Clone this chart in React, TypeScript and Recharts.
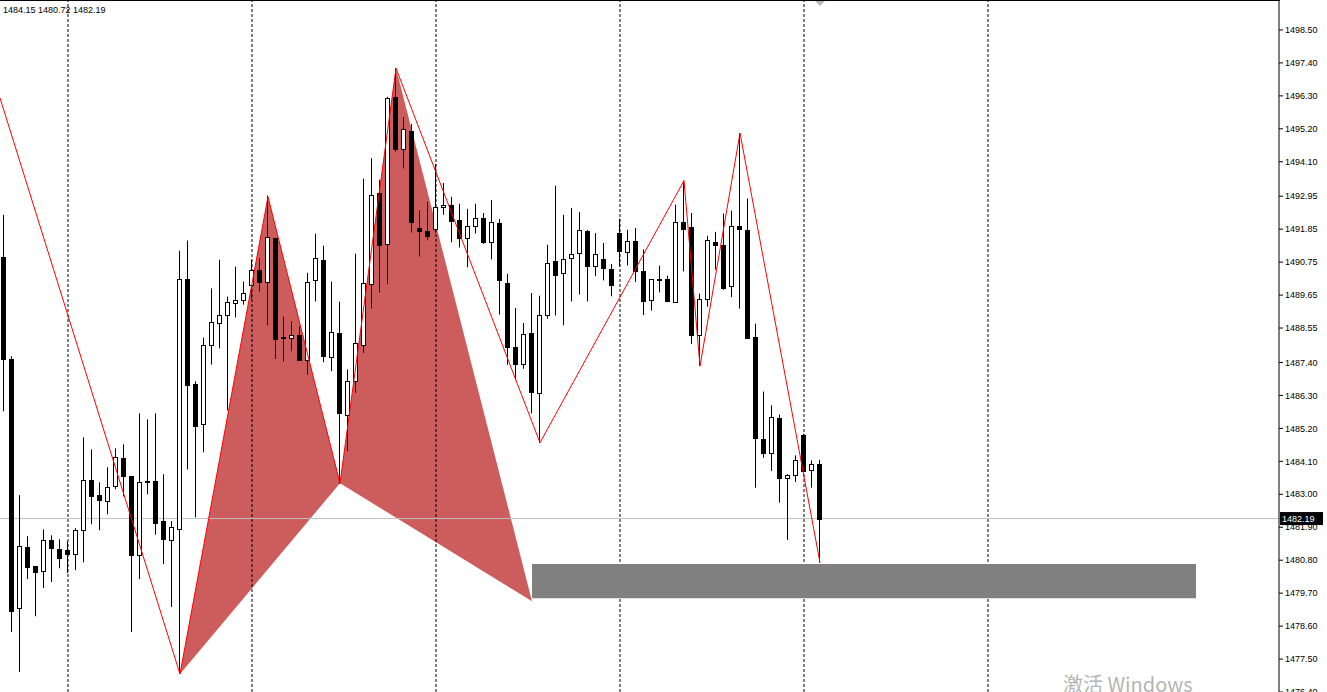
import { Bar, ComposedChart, Line, ReferenceArea, ReferenceDot, ReferenceLine, Scatter, XAxis, YAxis } from 'recharts'

// OHLC per bar (bar 0 = left edge)
const opens = [
  1490.93, 1487.53, 1479.2, 1481.23, 1480.6, 1480.43, 1481.47, 1481.17, 1481.13, 1481.0,
  1481.8, 1483.47, 1482.97, 1482.77, 1483.27, 1484.2, 1483.6, 1480.97, 1483.45, 1483.43,
  1482.1, 1481.47, 1481.83, 1490.17, 1486.67, 1485.33, 1487.97, 1488.73, 1488.97, 1489.4,
  1489.48, 1490.0, 1490.5, 1490.09, 1491.56, 1488.24, 1488.22, 1488.32, 1487.49, 1490.16,
  1490.83, 1487.59, 1488.39, 1485.66, 1486.79, 1487.99, 1490.02, 1493.06, 1491.36, 1496.26,
  1494.52, 1495.13, 1491.89, 1491.79, 1491.86, 1492.59, 1492.66, 1492.16, 1491.56, 1491.96,
  1492.22, 1491.41, 1492.06, 1490.06, 1487.92, 1487.36, 1488.39, 1486.39, 1489.0, 1490.8,
  1490.39, 1490.89, 1491.06, 1491.8, 1490.61, 1490.86, 1490.53, 1491.72, 1491.09, 1491.47,
  1490.47, 1489.47, 1490.18, 1490.2, 1489.41, 1492.09, 1491.92, 1488.32, 1489.52, 1491.42,
  1491.32, 1489.94, 1491.97, 1491.83, 1488.26, 1484.86, 1484.39, 1485.56, 1483.56, 1483.63,
  1484.99, 1483.8, 1484.02,
]
const highs = [
  1492.33, 1487.6, 1482.97, 1481.6, 1480.6, 1481.83, 1481.63, 1481.5, 1481.43, 1481.87,
  1484.9, 1484.5, 1483.4, 1483.9, 1484.53, 1484.67, 1483.6, 1485.7, 1485.5, 1485.7,
  1483.67, 1482.1, 1491.13, 1491.47, 1486.77, 1488.23, 1489.87, 1490.83, 1489.6, 1490.6,
  1490.1, 1490.82, 1490.87, 1492.97, 1491.56, 1488.93, 1488.77, 1488.6, 1490.39, 1491.7,
  1491.3, 1490.1, 1489.43, 1487.17, 1491.03, 1493.53, 1494.22, 1493.5, 1496.27, 1497.22,
  1495.59, 1495.36, 1492.47, 1492.76, 1494.03, 1493.39, 1492.93, 1492.7, 1492.53, 1492.7,
  1492.39, 1492.82, 1492.19, 1490.36, 1489.22, 1488.72, 1489.72, 1489.63, 1491.33, 1493.3,
  1492.33, 1492.56, 1492.42, 1491.82, 1491.72, 1491.39, 1490.69, 1492.2, 1491.83, 1491.89,
  1491.17, 1490.17, 1490.63, 1490.3, 1492.67, 1493.47, 1492.39, 1489.7, 1491.63, 1491.76,
  1492.37, 1492.47, 1495.06, 1492.87, 1488.7, 1486.43, 1485.97, 1485.66, 1483.67, 1484.3,
  1485.02, 1484.13, 1484.15,
]
const lows = [
  1485.77, 1478.4, 1477.07, 1480.17, 1478.93, 1479.87, 1480.07, 1480.53, 1480.37, 1480.47,
  1480.73, 1482.0, 1481.8, 1482.33, 1483.17, 1482.93, 1478.4, 1480.17, 1483.0, 1481.65,
  1480.67, 1479.24, 1477.0, 1483.83, 1482.23, 1484.4, 1487.33, 1487.87, 1485.8, 1488.9,
  1489.33, 1489.53, 1489.77, 1488.64, 1487.52, 1487.43, 1487.78, 1487.49, 1486.99, 1489.44,
  1487.41, 1487.11, 1483.35, 1484.44, 1486.39, 1487.72, 1489.21, 1489.74, 1490.02, 1494.44,
  1493.88, 1491.74, 1490.94, 1491.48, 1491.72, 1492.33, 1491.41, 1491.24, 1490.58, 1491.71,
  1491.36, 1490.84, 1489.0, 1487.32, 1486.81, 1487.19, 1485.7, 1484.72, 1488.86, 1488.97,
  1488.64, 1489.44, 1489.67, 1489.44, 1490.28, 1490.14, 1489.61, 1490.61, 1490.64, 1490.09,
  1488.98, 1489.13, 1489.74, 1489.41, 1489.41, 1490.44, 1488.02, 1487.28, 1489.26, 1490.5,
  1489.83, 1489.58, 1489.2, 1488.21, 1483.22, 1484.22, 1483.78, 1482.72, 1481.48, 1483.41,
  1483.74, 1483.22, 1480.72,
]
const closes = [
  1487.53, 1479.1, 1481.27, 1480.57, 1480.4, 1481.47, 1481.2, 1480.87, 1481.0, 1481.8,
  1483.47, 1482.93, 1482.8, 1483.23, 1484.23, 1483.6, 1480.97, 1483.4, 1483.4, 1482.03,
  1481.5, 1481.9, 1490.17, 1486.65, 1485.27, 1487.97, 1488.74, 1488.97, 1489.43, 1489.47,
  1489.73, 1490.5, 1490.07, 1491.59, 1488.19, 1488.22, 1488.32, 1487.49, 1490.09, 1490.88,
  1487.61, 1488.42, 1485.72, 1486.79, 1488.06, 1490.06, 1492.99, 1491.31, 1496.22, 1494.53,
  1495.19, 1492.08, 1491.78, 1491.61, 1492.59, 1492.67, 1492.11, 1491.56, 1491.96, 1492.22,
  1491.41, 1492.09, 1490.14, 1487.92, 1487.36, 1488.36, 1486.41, 1488.99, 1490.72, 1490.33,
  1490.86, 1491.02, 1491.82, 1490.61, 1491.02, 1490.54, 1489.98, 1491.12, 1491.47, 1490.46,
  1489.44, 1490.17, 1490.16, 1489.44, 1492.09, 1491.86, 1488.33, 1489.52, 1491.5, 1491.31,
  1489.87, 1491.96, 1491.86, 1488.23, 1484.88, 1484.39, 1485.59, 1483.56, 1483.63, 1484.14,
  1483.78, 1484.02, 1482.19,
]

// zigzag swing points (bar index, price); first point is where the line enters at the left edge
const zigzagBars = [-0.5, 22, 33, 42, 49, 67, 85, 87, 92, 102]
const zigzagPrices = [1496.23, 1477.0, 1492.93, 1483.37, 1497.22, 1484.72, 1493.47, 1487.28, 1495.06, 1480.72]

// harmonic pattern legs
const xabBars = [22, 33, 42]
const xabPrices = [1477.0, 1492.93, 1483.37]
const bcdBars = [42, 49, 66]
const bcdPrices = [1483.37, 1497.22, 1479.43]

// completion zone box
const zoneBars = [66, 149]
const zonePrices = [1479.53, 1480.67]

const separatorBars = [8, 31, 54, 77, 100, 123]
const priceTicks = [
  1498.5, 1497.4, 1496.3, 1495.2, 1494.1, 1492.95, 1491.85, 1490.75, 1489.65, 1488.55, 1487.4,
  1486.3, 1485.2, 1484.1, 1483.0, 1481.9, 1480.8, 1479.7, 1478.6, 1477.5, 1476.4,
]
const lastPrice = 1482.19
const lastBar = 102
const headerText = '1484.15 1480.72 1482.19'

const candles = opens.map((open, i) => ({
  i,
  open,
  high: highs[i],
  low: lows[i],
  close: closes[i],
  range: [lows[i], highs[i]],
}))
const zigzag = zigzagBars.map((i, k) => ({ i, p: zigzagPrices[k] }))
const xab = xabBars.map((i, k) => ({ i, p: xabPrices[k] }))
const bcd = bcdBars.map((i, k) => ({ i, p: bcdPrices[k] }))

const FONT = '"Liberation Sans", Arial, sans-serif'

function Candle(props: any) {
  const { x, y, width, height, payload } = props
  if (x == null || y == null || !payload) return <g />
  const top = Math.min(y, y + height)
  const h = Math.abs(height)
  const ppu = h / (payload.high - payload.low || 1)
  const cx = Math.floor(x + width / 2) + 0.5
  const bodyTop = Math.round(top + (payload.high - Math.max(payload.open, payload.close)) * ppu)
  const bodyBot = Math.round(top + (payload.high - Math.min(payload.open, payload.close)) * ppu)
  const bull = payload.close > payload.open
  return (
    <g>
      <line x1={cx} x2={cx} y1={top} y2={top + h} stroke="#000" strokeWidth={1} />
      {bodyBot - bodyTop < 1 ? (
        <line x1={cx - 2.5} x2={cx + 2.5} y1={bodyTop + 0.5} y2={bodyTop + 0.5} stroke="#000" />
      ) : (
        <rect
          x={cx - 2}
          y={bodyTop + 0.5}
          width={4}
          height={bodyBot - bodyTop}
          fill={bull ? '#fff' : '#000'}
          stroke="#000"
          strokeWidth={1}
        />
      )}
    </g>
  )
}

function PriceTag(props: any) {
  const vb = props.viewBox || {}
  const left = (vb.x ?? 0) + (vb.width ?? 0) + 1
  const cy = vb.y ?? 0
  return (
    <g>
      <rect x={left} y={cy - 6.5} width={43} height={13} fill="#000" />
      <text x={left + 2} y={cy} dy="0.35em" fontSize={9} fontFamily={FONT} fill="#fff">
        {lastPrice.toFixed(2)}
      </text>
    </g>
  )
}

function ShiftMark(props: any) {
  const { cx, cy } = props
  return <polygon points={`${cx - 5},${cy + 1} ${cx + 5},${cy + 1} ${cx},${cy + 6}`} fill="#b8b8b8" />
}

const hidden = () => <g />

export default function App() {
  return (
    <div style={{ position: 'absolute', left: 0, top: 0, width: 1327, height: 692, overflow: 'hidden', background: '#fff' }}>
      <ComposedChart
        width={1327}
        height={692}
        data={candles}
        margin={{ top: 0, right: 0, bottom: 0, left: 0 }}
        style={{ fontFamily: FONT }}
      >
        <XAxis type="number" dataKey="i" domain={[-0.5, 159.375]} allowDataOverflow hide />
        <YAxis
          orientation="right"
          domain={[1476.4, 1499.5]}
          allowDataOverflow
          ticks={priceTicks}
          interval={0}
          width={48}
          tickSize={4}
          tickMargin={2}
          axisLine={{ stroke: '#000' }}
          tickLine={{ stroke: '#000' }}
          tick={{ fontSize: 9, fill: '#000', fontFamily: FONT }}
          tickFormatter={(v) => Number(v).toFixed(2)}
        />
        <Scatter
          data={xab}
          dataKey="p"
          fill="#CD5C5C"
          line={{ stroke: 'none', fill: '#CD5C5C' }}
          lineJointType="linearClosed"
          shape={hidden}
          zIndex={50}
          isAnimationActive={false}
        />
        <Scatter
          data={bcd}
          dataKey="p"
          fill="#CD5C5C"
          line={{ stroke: 'none', fill: '#CD5C5C' }}
          lineJointType="linearClosed"
          shape={hidden}
          zIndex={50}
          isAnimationActive={false}
        />
        {separatorBars.map((b) => (
          <ReferenceLine key={b} x={b} stroke="#000" strokeDasharray="3 2" zIndex={60} />
        ))}
        <ReferenceArea
          x1={zoneBars[0]}
          x2={zoneBars[1]}
          y1={zonePrices[0]}
          y2={zonePrices[1]}
          fill="#808080"
          fillOpacity={1}
          stroke="none"
          zIndex={70}
        />
        <ReferenceLine y={lastPrice} stroke="#C0C0C0" label={<PriceTag />} zIndex={80} />
        <Bar dataKey="range" barSize={5} shape={<Candle />} isAnimationActive={false} />
        <Line
          data={zigzag}
          dataKey="p"
          type="linear"
          stroke="#FF0000"
          strokeWidth={1}
          dot={false}
          activeDot={false}
          isAnimationActive={false}
        />
        <ReferenceDot x={lastBar} y={1499.5} shape={<ShiftMark />} />
      </ComposedChart>
      <div style={{ position: 'absolute', left: 0, top: 0, width: 1280, height: 1, background: '#000' }} />
      <div
        style={{
          position: 'absolute',
          left: 3,
          top: 4,
          fontSize: 9,
          lineHeight: '13px',
          fontFamily: FONT,
          color: '#000',
          whiteSpace: 'nowrap',
        }}
      >
        {headerText}
      </div>
      <div
        style={{
          position: 'absolute',
          left: 1063,
          top: 671,
          fontSize: 20,
          lineHeight: '26px',
          fontFamily: '"Noto Sans CJK SC", "Noto Sans", sans-serif',
          color: '#b4b4b4',
          whiteSpace: 'nowrap',
        }}
      >
        激活 Windows
      </div>
    </div>
  )
}
